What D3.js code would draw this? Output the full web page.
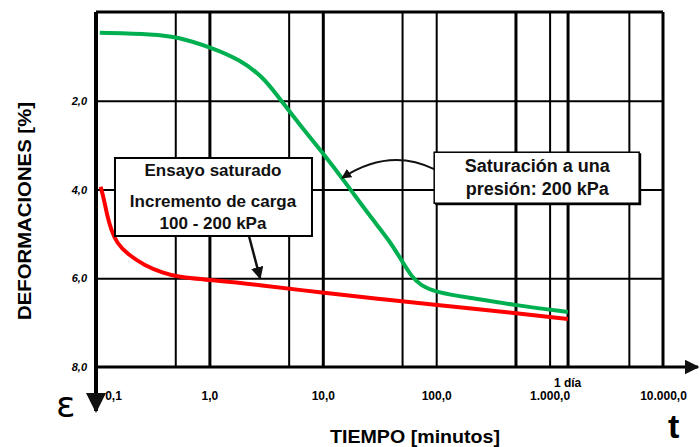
<!DOCTYPE html>
<html>
<head>
<meta charset="utf-8">
<script src="https://cdn.jsdelivr.net/npm/d3@7"></script>
<style>
  body { margin: 0; background: #fff; }
  svg { display: block; font-family: "Liberation Sans", Arial, sans-serif; }
</style>
</head>
<body>
<script>
// data: tiempo (min) vs deformacion (%)
const greenT = [0.108, 0.33, 0.52, 1.07, 1.86, 2.9, 4.0, 6.3, 9.8, 15.7, 26, 39, 50, 61, 72, 100, 198, 475, 1450]
const greenE = [0.47, 0.50, 0.56, 0.81, 1.08, 1.44, 1.89, 2.55, 3.15, 3.83, 4.60, 5.16, 5.62, 5.97, 6.15, 6.32, 6.44, 6.60, 6.76]
const redT = [0.11, 0.118, 0.125, 0.136, 0.153, 0.188, 0.27, 0.39, 0.52, 1.01, 2.8, 10, 32, 100, 475, 1450]
const redE = [3.94, 4.24, 4.57, 4.91, 5.21, 5.45, 5.72, 5.88, 5.97, 6.04, 6.15, 6.33, 6.47, 6.60, 6.78, 6.92]

const xTicks = [0.1, 1, 10, 100, 1000, 10000]
const xTickLabels = ["0,1", "1,0", "10,0", "100,0", "1.000,0", "10.000,0"]
const gridT = [0.5, 1, 5, 10, 50, 100, 500, 1000, 1440, 5000]
const thickT = [1, 10, 500, 1440]
const yTicks = [2, 4, 6, 8]
const yTickLabels = ["2,0", "4,0", "6,0", "8,0"]

const dimensions = {
  width: 700,
  height: 447,
  margin: { top: 12, right: 37, bottom: 80, left: 96 },
}
dimensions.boundedWidth = dimensions.width - dimensions.margin.left - dimensions.margin.right
dimensions.boundedHeight = dimensions.height - dimensions.margin.top - dimensions.margin.bottom

const wrapper = d3.select("body")
  .append("svg")
    .attr("width", dimensions.width)
    .attr("height", dimensions.height)

const defs = wrapper.append("defs")
defs.append("marker")
    .attr("id", "head")
    .attr("viewBox", "0 0 10 10")
    .attr("refX", 9)
    .attr("refY", 5)
    .attr("markerWidth", 5)
    .attr("markerHeight", 5)
    .attr("orient", "auto")
  .append("path")
    .attr("d", "M0,0 L10,5 L0,10 z")
    .attr("fill", "#111")

const bounds = wrapper.append("g")
  .attr("transform", `translate(${dimensions.margin.left},${dimensions.margin.top})`)

// scales
const xScale = d3.scaleLog()
  .domain([0.1, 10000])
  .range([0, dimensions.boundedWidth])

const yScale = d3.scaleLinear()
  .domain([0, 8])
  .range([0, dimensions.boundedHeight])

// vertical grid
const xGrid = bounds.append("g")
  .attr("transform", `translate(0,${dimensions.boundedHeight})`)
  .call(d3.axisBottom(xScale).tickValues(gridT).tickSize(-dimensions.boundedHeight).tickFormat(""))
xGrid.select(".domain").remove()
xGrid.selectAll("line")
  .attr("stroke", "#000")
  .attr("stroke-width", d => thickT.includes(d) ? 3 : 2)

// horizontal grid
const yGrid = bounds.append("g")
  .call(d3.axisLeft(yScale).tickValues([2, 4, 6]).tickSize(-dimensions.boundedWidth).tickFormat(""))
yGrid.select(".domain").remove()
yGrid.selectAll("line").attr("stroke", "#000").attr("stroke-width", 2)

// frame
bounds.append("line")
  .attr("x1", 0).attr("x2", dimensions.boundedWidth)
  .attr("y1", 0).attr("y2", 0)
  .attr("stroke", "#000").attr("stroke-width", 3)
bounds.append("line")
  .attr("x1", dimensions.boundedWidth).attr("x2", dimensions.boundedWidth)
  .attr("y1", 0).attr("y2", dimensions.boundedHeight)
  .attr("stroke", "#000").attr("stroke-width", 3)

// curves
const lineGen = d3.line()
  .x(d => xScale(d[0]))
  .y(d => yScale(d[1]))
  .curve(d3.curveBasis)

bounds.append("path")
  .datum(greenT.map((t, i) => [t, greenE[i]]))
  .attr("d", lineGen)
  .attr("fill", "none")
  .attr("stroke", "#00b050")
  .attr("stroke-width", 4)

bounds.append("path")
  .datum(redT.map((t, i) => [t, redE[i]]))
  .attr("d", lineGen)
  .attr("fill", "none")
  .attr("stroke", "#ff0000")
  .attr("stroke-width", 4)

// axes with arrows
bounds.append("line")
  .attr("x1", 0).attr("x2", 0)
  .attr("y1", 0).attr("y2", dimensions.boundedHeight + 44)
  .attr("stroke", "#000").attr("stroke-width", 4)
  .attr("marker-end", "url(#head)")
bounds.append("line")
  .attr("x1", 0).attr("x2", dimensions.boundedWidth + 35)
  .attr("y1", dimensions.boundedHeight).attr("y2", dimensions.boundedHeight)
  .attr("stroke", "#000").attr("stroke-width", 3)
  .attr("marker-end", "url(#head)")

// tick labels
const xAxis = bounds.append("g")
  .attr("transform", `translate(0,${dimensions.boundedHeight})`)
  .call(d3.axisBottom(xScale).tickValues(xTicks).tickSize(0).tickPadding(24)
    .tickFormat((d, i) => xTickLabels[i]))
xAxis.select(".domain").remove()
xAxis.selectAll("text")
  .attr("font-family", "Liberation Sans, Arial, sans-serif")
  .attr("font-size", 12)
  .attr("font-weight", "bold")
  .attr("fill", "#000")
  .attr("dx", (d, i) => i === 0 ? 17 : 0)

bounds.append("text")
  .attr("x", xScale(1440))
  .attr("y", dimensions.boundedHeight + 20)
  .attr("text-anchor", "middle")
  .attr("font-size", 12)
  .attr("font-weight", "bold")
  .text("1 día")

const yAxis = bounds.append("g")
  .call(d3.axisLeft(yScale).tickValues(yTicks).tickSize(0).tickPadding(9)
    .tickFormat((d, i) => yTickLabels[i]))
yAxis.select(".domain").remove()
yAxis.selectAll("text")
  .attr("font-family", "Liberation Sans, Arial, sans-serif")
  .attr("font-size", 11)
  .attr("font-weight", "bold")
  .attr("font-style", "italic")
  .attr("fill", "#000")

// axis titles
wrapper.append("text")
  .attr("transform", "translate(31,211) rotate(-90)")
  .attr("text-anchor", "middle")
  .attr("font-size", 19)
  .attr("font-weight", "bold")
  .attr("textLength", 218)
  .attr("lengthAdjust", "spacingAndGlyphs")
  .text("DEFORMACIONES [%]")

wrapper.append("text")
  .attr("x", 415)
  .attr("y", 443)
  .attr("text-anchor", "middle")
  .attr("font-size", 19)
  .attr("font-weight", "bold")
  .attr("textLength", 170)
  .attr("lengthAdjust", "spacingAndGlyphs")
  .text("TIEMPO [minutos]")

wrapper.append("text")
  .attr("x", 56)
  .attr("y", 417)
  .attr("font-family", "DejaVu Sans, sans-serif")
  .attr("font-size", 36)
  .text("ε")

wrapper.append("text")
  .attr("x", 668)
  .attr("y", 438)
  .attr("font-size", 34)
  .attr("font-weight", "bold")
  .text("t")

// annotation: ensayo saturado
const box1 = bounds.append("g")
  .attr("transform", `translate(${xScale(0.147)},${yScale(3.29)})`)
box1.append("line")
  .attr("x1", 134).attr("y1", 78)
  .attr("x2", xScale(2.8) - xScale(0.147)).attr("y2", yScale(6.0) - yScale(3.29))
  .attr("stroke", "#111").attr("stroke-width", 2.5)
  .attr("marker-end", "url(#head)")
box1.append("rect")
  .attr("width", 197).attr("height", 78)
  .attr("fill", "#fff").attr("stroke", "#000").attr("stroke-width", 2)
box1.selectAll("text")
  .data(["Ensayo saturado", "Incremento de carga", "100 - 200 kPa"])
  .join("text")
    .attr("x", 98)
    .attr("y", (d, i) => [18, 49, 71][i])
    .attr("text-anchor", "middle")
    .attr("font-size", 17)
    .attr("font-weight", "bold")
    .attr("fill", "#111")
    .text(d => d)

// annotation: saturacion a una presion
const box2 = bounds.append("g")
  .attr("transform", `translate(${xScale(96)},${yScale(3.16)})`)
const tipX = xScale(14.8) - xScale(96)
const tipY = yScale(3.74) - yScale(3.16)
box2.append("path")
  .attr("d", `M0,17 Q-45,-5 ${tipX},${tipY}`)
  .attr("fill", "none")
  .attr("stroke", "#111").attr("stroke-width", 2)
  .attr("marker-end", "url(#head)")
box2.append("rect")
  .attr("x", 1).attr("y", 1)
  .attr("width", 206).attr("height", 52)
  .attr("fill", "#000")
box2.append("rect")
  .attr("width", 205).attr("height", 51)
  .attr("fill", "#fff").attr("stroke", "#000").attr("stroke-width", 1.5)
box2.selectAll("text")
  .data(["Saturación a una", "presión: 200 kPa"])
  .join("text")
    .attr("x", 103)
    .attr("y", (d, i) => [20, 43][i])
    .attr("text-anchor", "middle")
    .attr("font-size", 18)
    .attr("font-weight", "bold")
    .attr("fill", "#111")
    .text(d => d)
</script>
</body>
</html>
